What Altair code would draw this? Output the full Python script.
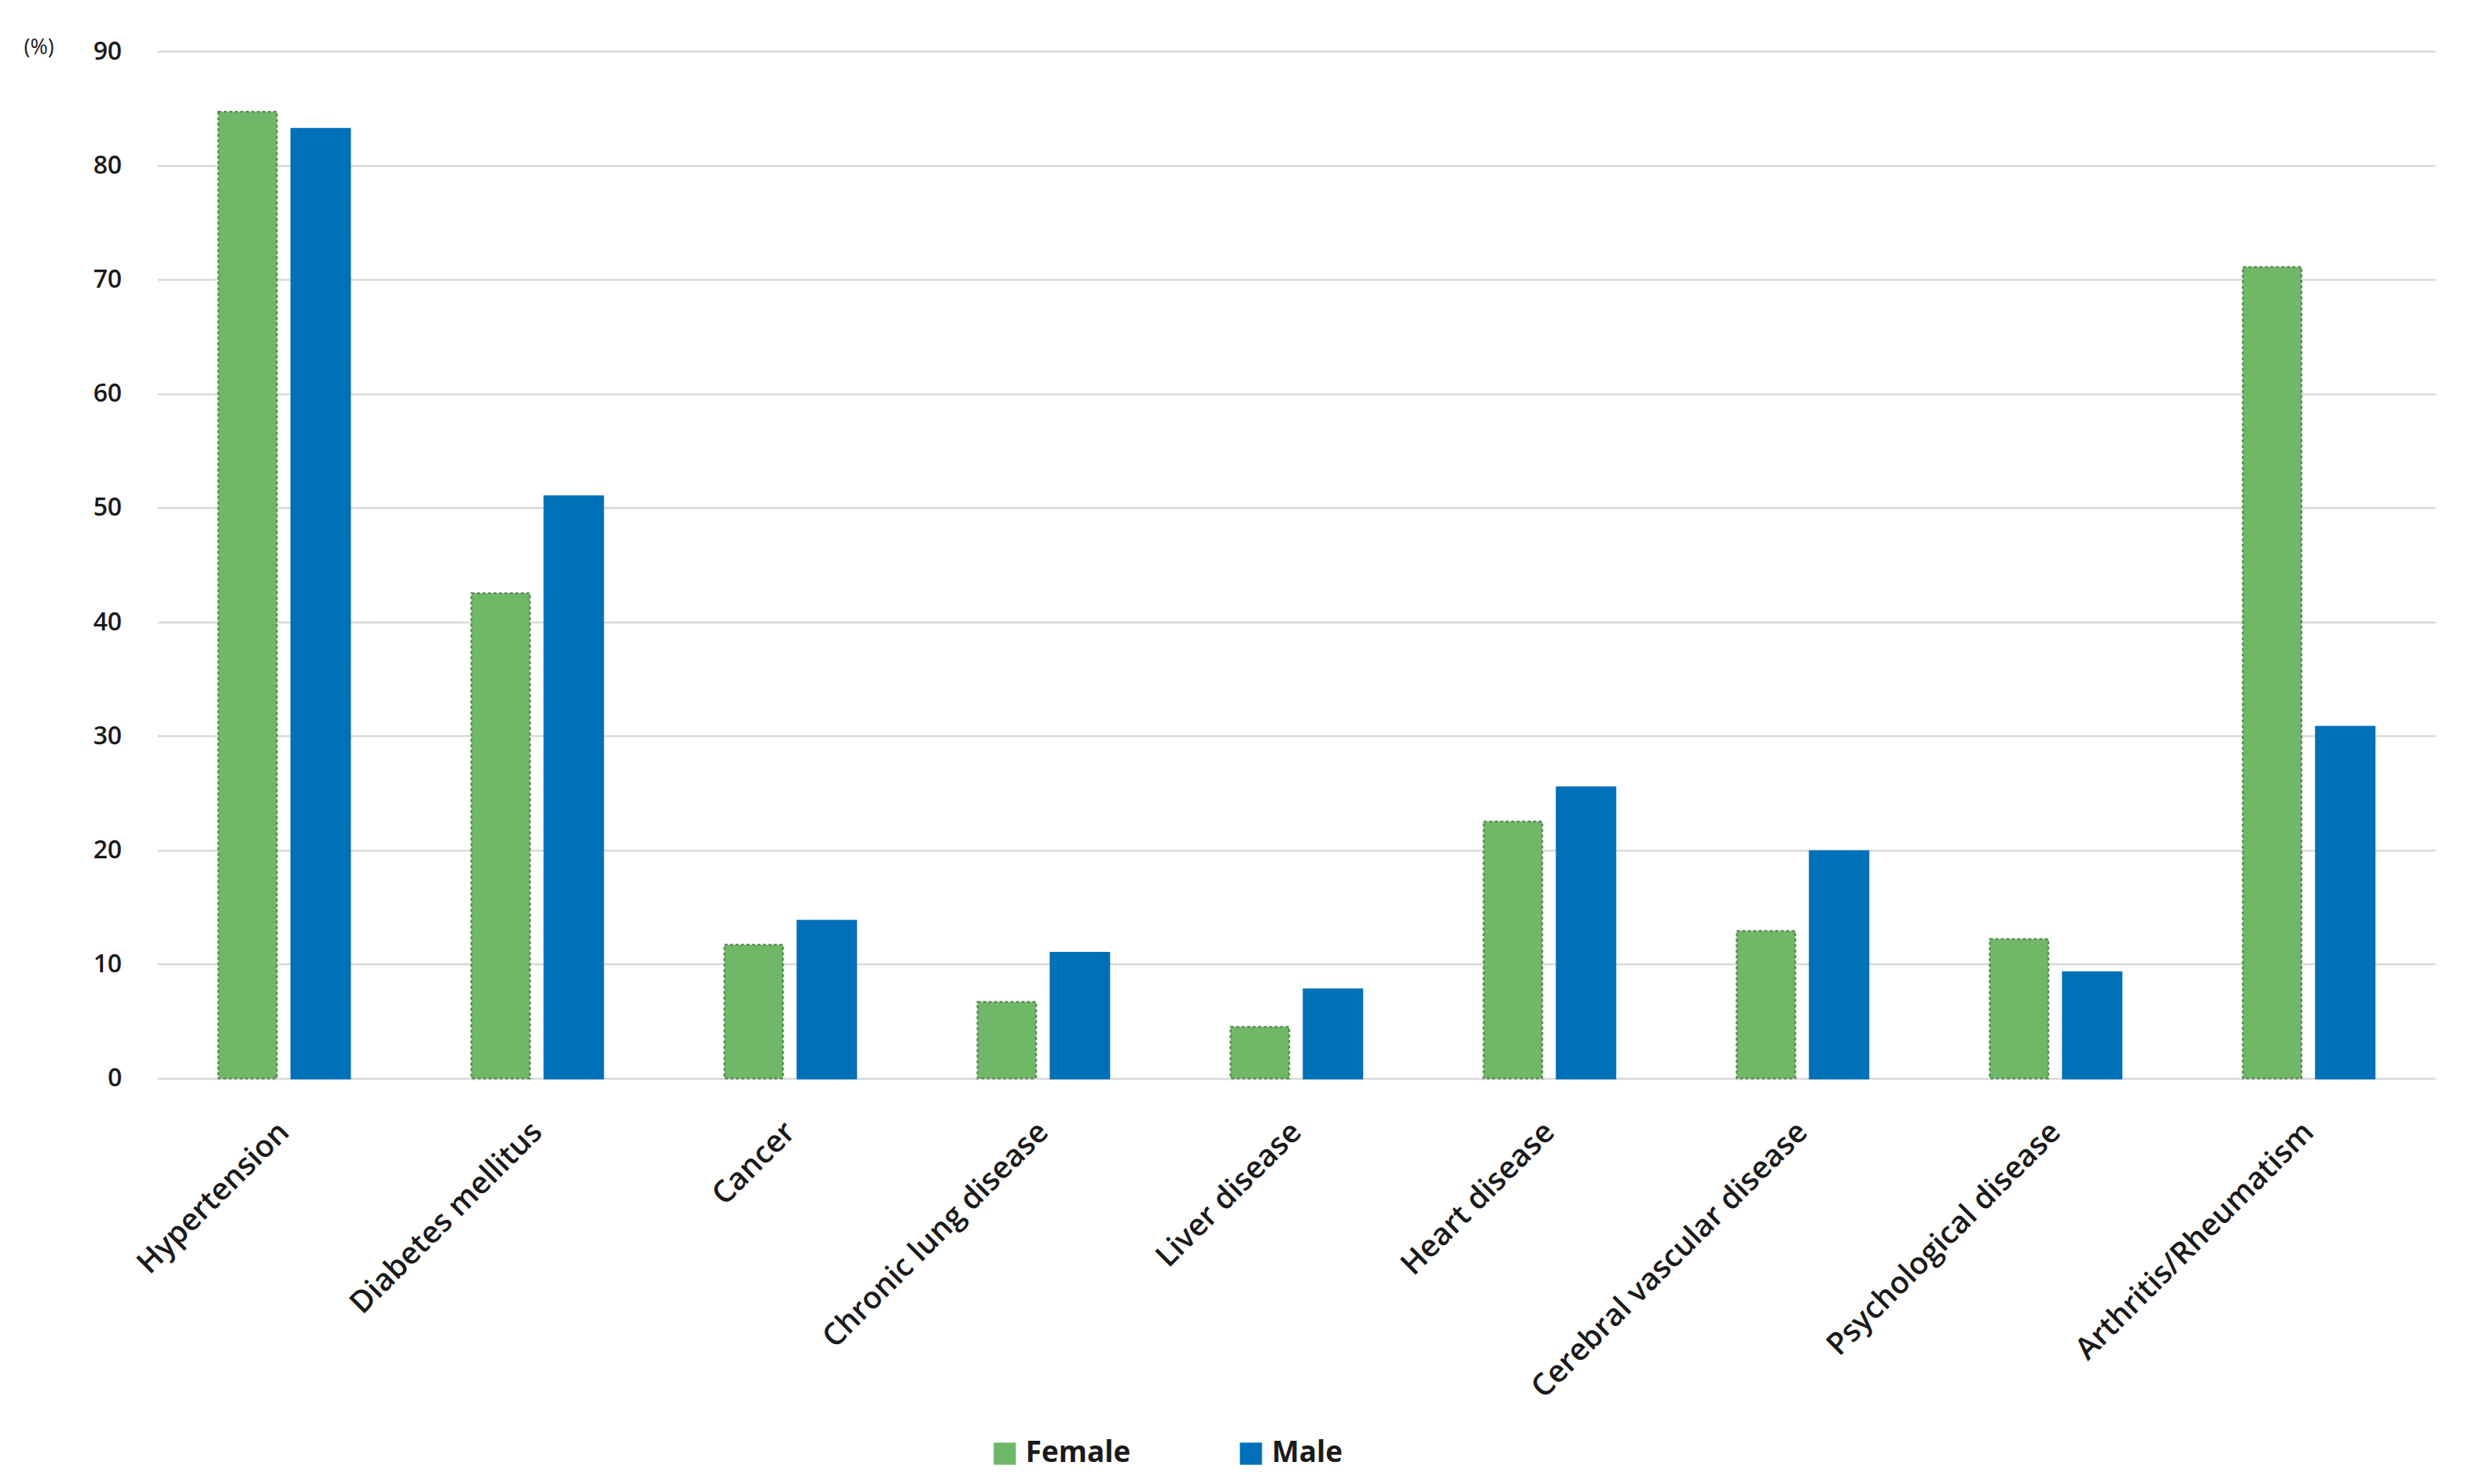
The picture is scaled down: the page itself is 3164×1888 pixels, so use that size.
import altair as alt
import pandas as pd

categories = [
    "Hypertension", "Diabetes mellitus", "Cancer", "Chronic lung disease",
    "Liver disease", "Heart disease", "Cerebral vascular disease",
    "Psychological disease", "Arthritis/Rheumatism",
]
female = [84.7, 42.5, 11.7, 6.7, 4.5, 22.5, 12.9, 12.2, 71.1]
male = [83.2, 51.0, 13.8, 11.0, 7.8, 25.5, 19.9, 9.3, 30.8]
sexes = ["Female", "Male"]
colors = ["#70b868", "#0070b8"]
strokes = ["#5b8d55", "#0070b8"]
y_ticks = [0, 10, 20, 30, 40, 50, 60, 70, 80, 90]

rows = []
for c, f, m in zip(categories, female, male):
    rows.append({"Disease": c, "Sex": "Female", "Value": f})
    rows.append({"Disease": c, "Sex": "Male", "Value": m})
df = pd.DataFrame(rows)

FONT = "Open Sans"

chart = alt.Chart(df).mark_bar(strokeWidth=2.5).encode(
    x=alt.X(
        "Disease:N",
        sort=categories,
        scale=alt.Scale(paddingInner=0.48, paddingOuter=0.24),
        axis=alt.Axis(
            title=None,
            labelAngle=-45,
            labelAlign="right",
            labelBaseline="middle",
            labelFont=FONT,
            labelFontSize=39,
            labelFontWeight=600,
            labelColor="#1a1a1a",
            labelPadding=62,
            ticks=False,
            domain=False,
            grid=False,
            labelLimit=900,
        ),
    ),
    xOffset=alt.XOffset("Sex:N", sort=sexes, scale=alt.Scale(paddingInner=0.2)),
    y=alt.Y(
        "Value:Q",
        scale=alt.Scale(domain=[0, 90], nice=False),
        axis=alt.Axis(
            title="(%)",
            titleAngle=0,
            titleAlign="left",
            titleBaseline="middle",
            titleX=-171,
            titleY=-5,
            titleFont=FONT,
            titleFontSize=27,
            titleFontWeight="normal",
            titleColor="#1a1a1a",
            values=y_ticks,
            labelFont=FONT,
            labelFontSize=32,
            labelFontWeight=600,
            labelColor="#1a1a1a",
            labelPadding=46,
            ticks=False,
            tickSize=0,
            domain=False,
            grid=True,
            gridColor="#d9d9d9",
            gridWidth=2.5,
        ),
    ),
    color=alt.Color(
        "Sex:N",
        scale=alt.Scale(domain=sexes, range=colors),
        legend=alt.Legend(
            title=None,
            orient="none",
            direction="horizontal",
            legendX=1062,
            legendY=1770,
            symbolType="square",
            symbolSize=800,
            symbolStrokeWidth=0,
            labelFont=FONT,
            labelFontSize=37,
            labelFontWeight="bold",
            labelColor="#1a1a1a",
            labelOffset=8,
            columnPadding=135,
        ),
    ),
    stroke=alt.Stroke("Sex:N", scale=alt.Scale(domain=sexes, range=strokes), legend=None),
    strokeDash=alt.StrokeDash(
        "Sex:N",
        scale=alt.Scale(domain=sexes, range=[[4, 3], [1, 0]]),
        legend=None,
    ),
).properties(
    width=2905,
    height=1310,
    background="white",
    autosize=alt.AutoSizeParams(type="none"),
    padding={"left": 193, "top": 55, "right": 58, "bottom": 507},
).configure_view(stroke=None)

chart.save("out.html", embed_options={"renderer": "svg", "actions": False})
